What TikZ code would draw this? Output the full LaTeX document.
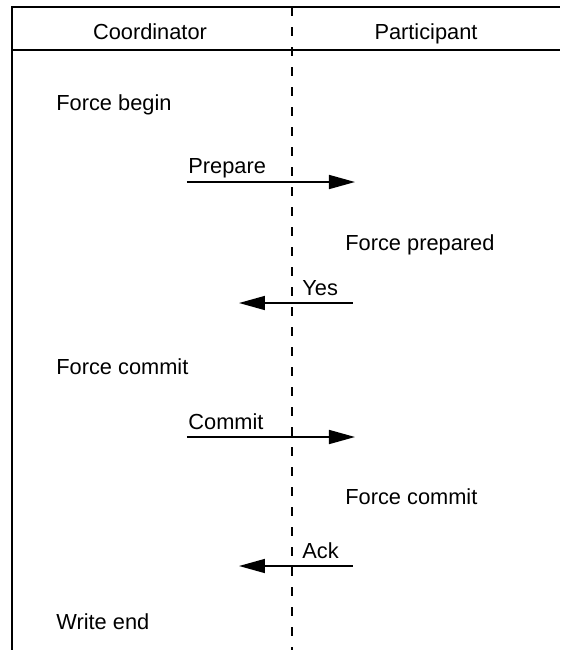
\documentclass[tikz,border=0pt]{standalone}
\usepackage{fontspec}
\setmainfont{Liberation Sans}
\usetikzlibrary{arrows.meta}

\begin{document}
\begin{tikzpicture}[x=0.5pt, y=-0.5pt, >={Triangle[length=13pt,width=7pt]},
  every node/.style={font=\fontsize{10.9}{13}\selectfont, inner sep=0pt},
  txt/.style={anchor=base west},
  msg/.style={->, line width=0.8pt}]
  \useasboundingbox (0,0) rectangle (561,650);
  % frame and header
  \draw[line width=0.8pt] (12,650) -- (12,7) -- (560,7);
  \draw[line width=0.8pt] (12,50) -- (560,50);
  \draw[dash pattern=on 4.5pt off 5.5pt, line width=0.6pt] (292,7) -- (292,650);
  \node[anchor=base] (coord) at (150,39) {Coordinator};
  \node[anchor=base] (part) at (426,39) {Participant};

  % steps
  \node[txt] (fbegin) at (56,110) {Force begin};
  \node[txt] (prep) at (188,173) {Prepare};
  \coordinate (prepS) at (187,182);
  \coordinate (prepE) at (355,182);
  \node[txt] (fprep) at (345,250) {Force prepared};
  \node[txt] (yes) at (302,295) {Yes};
  \coordinate (yesS) at (353,303);
  \coordinate (yesE) at (239,303);
  \node[txt] (fcommit) at (56,374) {Force commit};
  \node[txt] (commit) at (188,429) {Commit};
  \coordinate (commitS) at (187,437);
  \coordinate (commitE) at (355,437);
  \node[txt] (fcommitp) at (345,504) {Force commit};
  \node[txt] (ack) at (302,558) {Ack};
  \coordinate (ackS) at (353,566);
  \coordinate (ackE) at (239,566);
  \node[txt] (wend) at (56,629) {Write end};

  % messages
  \draw[msg] (prepS) -- (prepE);
  \draw[msg] (yesS) -- (yesE);
  \draw[msg] (commitS) -- (commitE);
  \draw[msg] (ackS) -- (ackE);
\end{tikzpicture}
\end{document}
